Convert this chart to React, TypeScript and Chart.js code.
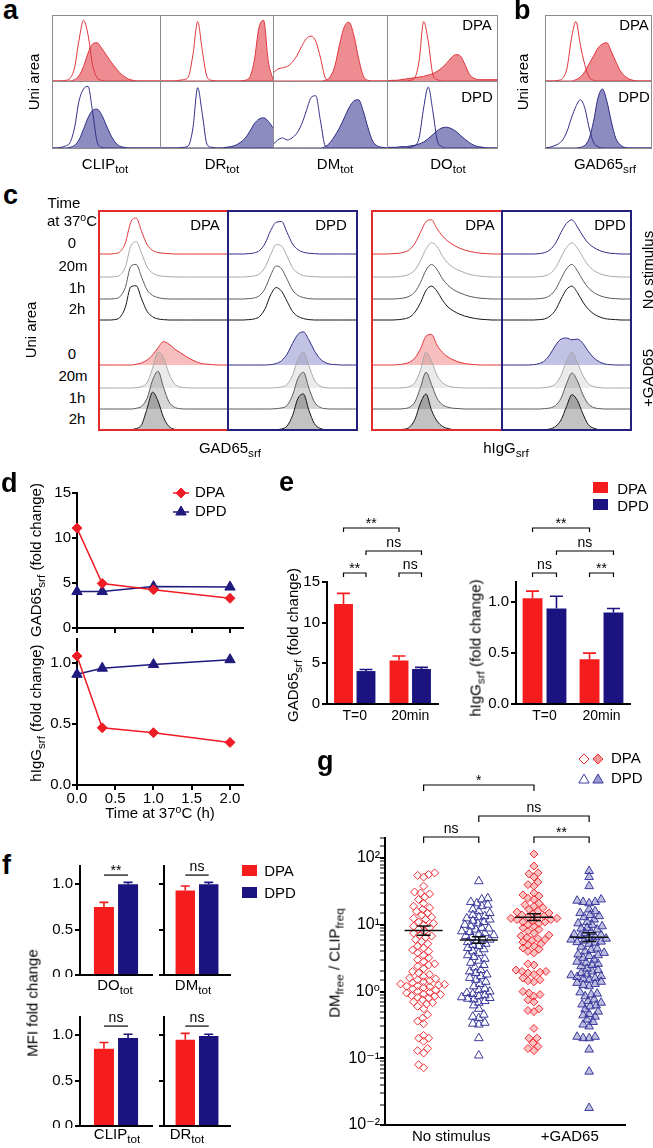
import React, { useEffect, useRef } from 'react';
import { Chart, registerables } from 'chart.js';

Chart.register(...registerables);

const FONT = "'Liberation Sans', Arial, 'DejaVu Sans', sans-serif";
Chart.defaults.font.family = FONT;
Chart.defaults.font.size = 14;
Chart.defaults.color = '#000';

/* ======================= DATA ======================= */

// a: total-staining histograms, 25 bins along the log fluorescence axis (% of plot height)
const aMarkers = ['CLIP', 'DR', 'DM', 'DO'];
const aDpaCtrl = [
  [0, 0, 0, 1, 4, 20, 62, 92, 70, 25, 5, 1, 0, 0, 0, 0, 0, 0, 0, 0, 0, 0, 0, 0, 0],
  [0, 0, 0, 0, 1, 2, 6, 40, 90, 45, 6, 1, 0, 0, 0, 0, 0, 0, 0, 0, 0, 0, 0, 0, 0],
  [12, 18, 20, 22, 28, 38, 52, 64, 68, 60, 35, 5, 0, 0, 0, 0, 0, 0, 0, 0, 0, 0, 0, 0, 0],
  [0, 0, 0, 0, 0, 1, 4, 30, 90, 60, 10, 2, 0, 0, 0, 0, 0, 0, 0, 0, 0, 0, 0, 0, 0],
];
const aDpaStain = [
  [0, 0, 0, 0, 0, 2, 8, 22, 42, 56, 58, 50, 40, 30, 21, 13, 7, 3, 1, 0, 0, 0, 0, 0, 0],
  [0, 0, 0, 0, 0, 0, 0, 0, 0, 0, 0, 0, 0, 0, 0, 0, 0, 0, 1, 5, 30, 80, 92, 30, 2],
  [0, 0, 0, 0, 0, 0, 0, 0, 0, 0, 0, 1, 6, 22, 55, 82, 89, 70, 35, 8, 1, 0, 0, 0, 0],
  [0, 1, 1, 2, 3, 4, 5, 6, 7, 9, 11, 15, 20, 27, 35, 40, 38, 25, 10, 4, 2, 2, 2, 2, 2],
];
const aDpdCtrl = [
  [0, 0, 1, 3, 8, 30, 70, 88, 92, 55, 10, 1, 0, 0, 0, 0, 0, 0, 0, 0, 0, 0, 0, 0, 0],
  [0, 0, 0, 0, 0, 1, 3, 30, 90, 50, 5, 1, 0, 0, 0, 0, 0, 0, 0, 0, 0, 0, 0, 0, 0],
  [5, 12, 15, 12, 15, 22, 35, 55, 75, 78, 40, 3, 0, 0, 0, 0, 0, 0, 0, 0, 0, 0, 0, 0, 0],
  [0, 0, 0, 0, 0, 1, 3, 15, 60, 91, 55, 10, 2, 0, 0, 0, 0, 0, 0, 0, 0, 0, 0, 0, 0],
];
const aDpdStain = [
  [0, 0, 0, 0, 1, 4, 12, 28, 45, 56, 58, 50, 35, 20, 9, 3, 1, 0, 0, 0, 0, 0, 0, 0, 0],
  [0, 0, 0, 0, 0, 0, 0, 0, 0, 0, 0, 0, 0, 0, 1, 2, 4, 8, 14, 24, 36, 43, 45, 40, 30],
  [0, 0, 0, 0, 0, 0, 0, 0, 0, 0, 0, 2, 8, 18, 30, 45, 60, 70, 72, 55, 30, 10, 3, 1, 0],
  [1, 1, 1, 2, 2, 3, 4, 6, 9, 14, 20, 26, 30, 31, 29, 25, 19, 13, 8, 4, 2, 1, 0, 0, 0],
];

// b: GAD65 surface histograms
const bDpaCtrl = [0, 0, 0, 1, 4, 20, 65, 90, 55, 25, 6, 1, 0, 0, 0, 0, 0, 0, 0, 0, 0, 0, 0, 0, 0];
const bDpaStain = [0, 0, 0, 0, 0, 0, 0, 2, 6, 14, 26, 38, 50, 56, 58, 45, 30, 16, 8, 3, 1, 0, 0, 0, 0];
const bDpdCtrl = [0, 1, 3, 6, 12, 25, 45, 62, 72, 60, 30, 8, 2, 0, 0, 0, 0, 0, 0, 0, 0, 0, 0, 0, 0];
const bDpdStain = [0, 0, 0, 0, 0, 0, 0, 0, 1, 4, 14, 40, 75, 88, 70, 40, 15, 5, 1, 0, 0, 0, 0, 0, 0];

// c: staggered histograms per time point (0, 20m, 1h, 2h)
const cTimes = ['0', '20m', '1h', '2h'];
const cGadDpaNoStim = [
  [0, 0, 0, 1, 6, 30, 88, 100, 62, 26, 10, 4, 2, 1, 0, 0, 0, 0, 0, 0, 0, 0, 0, 0, 0],
  [0, 0, 0, 1, 5, 28, 85, 98, 65, 28, 11, 4, 2, 1, 0, 0, 0, 0, 0, 0, 0, 0, 0, 0, 0],
  [0, 0, 0, 1, 6, 32, 90, 96, 60, 25, 10, 4, 1, 0, 0, 0, 0, 0, 0, 0, 0, 0, 0, 0, 0],
  [0, 0, 0, 1, 7, 35, 92, 95, 58, 24, 9, 3, 1, 0, 0, 0, 0, 0, 0, 0, 0, 0, 0, 0, 0],
];
const cGadDpaGad = [
  [0, 0, 0, 0, 0, 0, 0, 2, 6, 14, 28, 48, 65, 58, 45, 35, 25, 16, 9, 4, 2, 1, 0, 0, 0],
  [0, 0, 0, 0, 0, 0, 0, 1, 4, 15, 55, 100, 85, 40, 12, 3, 1, 0, 0, 0, 0, 0, 0, 0, 0],
  [0, 0, 0, 0, 0, 0, 0, 2, 8, 30, 80, 105, 60, 20, 5, 1, 0, 0, 0, 0, 0, 0, 0, 0, 0],
  [0, 0, 0, 0, 0, 0, 1, 4, 15, 60, 105, 80, 35, 10, 2, 0, 0, 0, 0, 0, 0, 0, 0, 0, 0],
];
const cGadDpdNoStim = [
  [0, 0, 0, 0, 1, 3, 10, 30, 65, 88, 90, 60, 28, 12, 5, 2, 1, 0, 0, 0, 0, 0, 0, 0, 0],
  [0, 0, 0, 0, 1, 3, 9, 28, 62, 90, 86, 58, 26, 11, 4, 2, 1, 0, 0, 0, 0, 0, 0, 0, 0],
  [0, 0, 0, 0, 1, 3, 10, 30, 66, 92, 84, 55, 25, 10, 4, 1, 0, 0, 0, 0, 0, 0, 0, 0, 0],
  [0, 0, 0, 0, 1, 3, 10, 32, 70, 90, 80, 52, 24, 10, 4, 1, 0, 0, 0, 0, 0, 0, 0, 0, 0],
];
const cGadDpdGad = [
  [0, 0, 0, 0, 0, 0, 0, 0, 1, 4, 12, 30, 60, 85, 92, 70, 40, 18, 7, 2, 1, 0, 0, 0, 0],
  [0, 0, 0, 0, 0, 0, 0, 0, 0, 1, 3, 10, 35, 80, 100, 62, 22, 6, 1, 0, 0, 0, 0, 0, 0],
  [0, 0, 0, 0, 0, 0, 0, 0, 0, 1, 3, 10, 38, 85, 102, 58, 20, 5, 1, 0, 0, 0, 0, 0, 0],
  [0, 0, 0, 0, 0, 0, 0, 0, 0, 1, 3, 11, 40, 88, 100, 55, 18, 5, 1, 0, 0, 0, 0, 0, 0],
];
const cIgDpaNoStim = [
  [0, 0, 0, 0, 1, 2, 5, 12, 30, 60, 90, 95, 70, 50, 35, 25, 17, 11, 7, 4, 2, 1, 0, 0, 0],
  [0, 0, 0, 0, 0, 1, 3, 8, 20, 45, 78, 95, 85, 58, 38, 26, 18, 12, 7, 4, 2, 1, 0, 0, 0],
  [0, 0, 0, 0, 0, 1, 3, 8, 20, 46, 80, 96, 82, 56, 38, 26, 18, 12, 7, 4, 2, 1, 0, 0, 0],
  [0, 0, 0, 0, 0, 1, 3, 8, 22, 48, 82, 94, 80, 55, 36, 25, 17, 11, 7, 4, 2, 1, 0, 0, 0],
];
const cIgDpaGad = [
  [0, 0, 0, 0, 0, 1, 3, 8, 20, 45, 80, 85, 55, 35, 22, 14, 8, 4, 2, 1, 0, 0, 0, 0, 0],
  [0, 0, 0, 0, 0, 0, 1, 4, 15, 50, 100, 75, 35, 15, 6, 2, 1, 0, 0, 0, 0, 0, 0, 0, 0],
  [0, 0, 0, 0, 0, 0, 1, 5, 20, 60, 102, 68, 30, 12, 5, 2, 1, 0, 0, 0, 0, 0, 0, 0, 0],
  [0, 0, 0, 0, 0, 1, 2, 8, 30, 75, 100, 55, 25, 10, 4, 1, 0, 0, 0, 0, 0, 0, 0, 0, 0],
];
const cIgDpdNoStim = [
  [0, 0, 0, 0, 0, 0, 0, 1, 4, 12, 30, 60, 85, 95, 75, 50, 30, 18, 10, 5, 2, 1, 0, 0, 0],
  [0, 0, 0, 0, 0, 0, 0, 1, 3, 10, 26, 55, 82, 95, 80, 55, 32, 18, 10, 5, 2, 1, 0, 0, 0],
  [0, 0, 0, 0, 0, 0, 0, 1, 3, 10, 27, 56, 84, 96, 78, 52, 31, 18, 10, 5, 2, 1, 0, 0, 0],
  [0, 0, 0, 0, 0, 0, 0, 1, 3, 11, 28, 58, 85, 94, 76, 50, 30, 17, 9, 4, 2, 1, 0, 0, 0],
];
const cIgDpdGad = [
  [0, 0, 0, 0, 0, 0, 1, 4, 12, 30, 55, 72, 75, 70, 72, 60, 38, 20, 9, 3, 1, 0, 0, 0, 0],
  [0, 0, 0, 0, 0, 0, 0, 0, 1, 4, 12, 35, 75, 100, 70, 35, 12, 4, 1, 0, 0, 0, 0, 0, 0],
  [0, 0, 0, 0, 0, 0, 0, 0, 1, 3, 10, 30, 70, 100, 78, 40, 14, 4, 1, 0, 0, 0, 0, 0, 0],
  [0, 0, 0, 0, 0, 0, 0, 0, 1, 3, 10, 28, 65, 98, 82, 45, 15, 5, 1, 0, 0, 0, 0, 0, 0],
];

// d: time course (hours) of surface GAD65 and hIgG fold change
const dTimeH = [0, 0.33, 1, 2];
const dGadDpa = [11.1, 4.95, 4.25, 3.3];
const dGadDpd = [4.05, 4.05, 4.6, 4.55];
const dIgDpa = [1.06, 0.47, 0.43, 0.35];
const dIgDpd = [0.91, 0.96, 0.99, 1.03];
const dXTicks = [0, 0.5, 1, 1.5, 2];

// e: bar charts (mean and upper SEM)
const eGroups = ['T=0', '20min'];
const eGadDpa = [12.3, 5.35];
const eGadDpaErr = [13.6, 5.9];
const eGadDpd = [4.05, 4.3];
const eGadDpdErr = [4.25, 4.5];
const eIgDpa = [1.04, 0.44];
const eIgDpaErr = [1.11, 0.5];
const eIgDpd = [0.94, 0.9];
const eIgDpdErr = [1.06, 0.94];

// f: MFI fold change (order: DO, DM, CLIP, DR)
const fMarkers = ['DO', 'DM', 'CLIP', 'DR'];
const fDpa = [0.75, 0.93, 0.85, 0.95];
const fDpaErr = [0.8, 0.98, 0.92, 1.02];
const fDpd = [1.0, 1.0, 0.97, 0.99];
const fDpdErr = [1.02, 1.02, 1.01, 1.01];
const fSig = ['**', 'ns', 'ns', 'ns'];

// g: DMfree / CLIPfreq per cell
const gCategories = ['No stimulus', '+GAD65'];
const gDpaNoStim = [60, 57, 55, 52, 38, 31, 30, 29, 26, 24, 21, 19, 18, 17, 16, 15, 14, 13, 12.5, 12, 11, 10.5, 10, 9.5, 9, 8.5, 8, 7.5, 7, 6.8, 6.5, 6, 5.6, 5.2, 4.8, 4.5, 4.2, 4, 3.8, 3.5, 3.2, 3, 2.8, 2.6, 2.5, 2.4, 2.2, 2, 1.9, 1.8, 1.7, 1.6, 1.55, 1.5, 1.45, 1.4, 1.35, 1.3, 1.28, 1.25, 1.22, 1.2, 1.18, 1.15, 1.1, 1.05, 1.0, 0.97, 0.95, 0.92, 0.9, 0.87, 0.85, 0.82, 0.8, 0.75, 0.7, 0.68, 0.65, 0.6, 0.55, 0.45, 0.4, 0.36, 0.33, 0.22, 0.2, 0.2, 0.18, 0.14, 0.13, 0.12, 0.08, 0.072];
const gDpdNoStim = [45, 25, 24, 22, 21, 20, 19, 17, 16, 15, 14, 13.5, 13, 12.5, 12, 11.5, 11, 10.5, 10, 9.5, 9, 8.8, 8.5, 8, 7.8, 7.5, 7.2, 7, 6.8, 6.5, 6.2, 6, 5.8, 5.5, 5.2, 5, 4.8, 4.5, 4.3, 4, 3.8, 3.5, 3.3, 3.1, 2.9, 2.7, 2.5, 2.3, 2.1, 2, 1.9, 1.8, 1.7, 1.6, 1.5, 1.4, 1.3, 1.2, 1.1, 1.05, 1, 0.95, 0.92, 0.88, 0.85, 0.82, 0.8, 0.78, 0.76, 0.72, 0.68, 0.62, 0.55, 0.45, 0.42, 0.4, 0.34, 0.33, 0.32, 0.2, 0.11];
const gDpaGad = [115, 76, 60, 58, 52, 44, 40, 38, 30, 28, 27, 25, 24, 21, 20, 19, 18, 17, 16, 15.5, 15, 14.5, 14, 13.5, 13, 13, 12.5, 12.5, 12, 12, 11.5, 11, 11, 10.5, 10, 9.5, 9, 8.5, 8, 7.5, 7, 6.8, 6.5, 6.2, 6, 5.8, 5.5, 5.2, 5, 4.8, 4.5, 4.3, 4, 3.8, 2.6, 2.5, 2.1, 2.0, 2.0, 1.95, 1.9, 1.8, 1.6, 1.5, 1.45, 1.4, 1.0, 0.95, 0.9, 0.85, 0.75, 0.7, 0.55, 0.52, 0.5, 0.28, 0.2, 0.2, 0.17, 0.15, 0.14, 0.13];
const gDpdGad = [64, 52, 38, 24, 23, 22, 22, 21, 17, 16, 15, 14, 13.5, 13, 12, 11, 10.5, 10, 9.5, 9, 8.8, 8.5, 7.8, 7.5, 7.2, 7, 6.8, 6.6, 6.4, 6.2, 6, 5.8, 5.6, 5.5, 5.4, 5.2, 4.7, 4.4, 4.2, 4, 3.8, 3.6, 3.5, 3.4, 3.2, 3, 2.8, 2.7, 2.6, 2.5, 2.4, 2.2, 2.1, 2, 1.9, 1.8, 1.75, 1.7, 1.65, 1.6, 1.55, 1.5, 1.4, 1.35, 1.3, 1.25, 1.2, 0.97, 0.93, 0.9, 0.85, 0.76, 0.72, 0.68, 0.64, 0.62, 0.6, 0.54, 0.5, 0.46, 0.44, 0.42, 0.38, 0.35, 0.32, 0.3, 0.21, 0.21, 0.2, 0.2, 0.135, 0.063, 0.018];
const gMean = [8.2, 5.9, 13.0, 6.5];
const gSemLo = [7.0, 5.3, 11.6, 5.6];
const gSemHi = [9.6, 6.6, 14.6, 7.6];

/* ======================= STYLE ======================= */
const RED_LINE = '#e0343c';
const RED_FILL = 'rgba(222,45,55,0.55)';
const BLUE_LINE = '#2e2c86';
const BLUE_FILL = 'rgba(45,45,140,0.55)';
const BAR_RED = '#f41c1c';
const BAR_NAVY = '#1b137f';
const PT_RED = '#ef2e36';
const PT_BLUE = '#3c3a9c';

/* ======================= HELPERS ======================= */
const fitW = (w: number) => (s: any) => {
  s.width = w; s.paddingLeft = 0; s.paddingRight = 0; s.paddingTop = 0; s.paddingBottom = 0;
};
const fitH = (h: number) => (s: any) => {
  s.height = h; s.paddingLeft = 0; s.paddingRight = 0; s.paddingTop = 0; s.paddingBottom = 0;
};

function ChartCanvas({ x, y, w, h, make }: any) {
  const ref = useRef<HTMLCanvasElement>(null);
  useEffect(() => {
    const chart = new Chart(ref.current as any, make());
    return () => chart.destroy();
  }, []);
  return (
    <div style={{ position: 'absolute', left: x, top: y, width: w, height: h }}>
      <canvas ref={ref} width={w} height={h} style={{ display: 'block', width: w, height: h }} />
    </div>
  );
}

function curve(vals: number[], base: number, k: number, line: string, fill: string | null, order: number) {
  return {
    data: vals.map((v, i) => ({ x: i, y: base + v * k })),
    borderColor: line,
    borderWidth: 1,
    backgroundColor: fill || 'rgba(0,0,0,0)',
    fill: fill ? { value: base } : false,
    pointRadius: 0,
    cubicInterpolationMode: 'monotone',
    order,
    clip: false,
  };
}

function histCfg(curves: any[], ymax: number) {
  return {
    type: 'line',
    data: { datasets: curves },
    options: {
      responsive: false, animation: false, devicePixelRatio: 1, events: [],
      layout: { padding: 0 },
      plugins: { legend: { display: false }, tooltip: { enabled: false } },
      scales: {
        x: { type: 'linear', min: 0, max: 24, display: false },
        y: { type: 'linear', min: 0, max: ymax, display: false },
      },
    },
  };
}

function drawDiamond(ctx: any, x: number, y: number, r: number, stroke: string, fill: string | null) {
  ctx.beginPath();
  ctx.moveTo(x - r, y); ctx.lineTo(x, y - r); ctx.lineTo(x + r, y); ctx.lineTo(x, y + r); ctx.closePath();
  if (fill) { ctx.fillStyle = fill; ctx.fill(); }
  ctx.strokeStyle = stroke; ctx.lineWidth = 1; ctx.stroke();
}
function drawTri(ctx: any, x: number, y: number, r: number, stroke: string, fill: string | null) {
  ctx.beginPath();
  ctx.moveTo(x, y - r); ctx.lineTo(x + 0.866 * r, y + 0.5 * r); ctx.lineTo(x - 0.866 * r, y + 0.5 * r); ctx.closePath();
  if (fill) { ctx.fillStyle = fill; ctx.fill(); }
  ctx.strokeStyle = stroke; ctx.lineWidth = 1; ctx.stroke();
}

function errPlugin(errs: number[][], cap: number) {
  return {
    id: 'errbars',
    afterDatasetsDraw(chart: any) {
      const ctx = chart.ctx;
      const ys = chart.scales.y;
      errs.forEach((arr, di) => {
        const meta = chart.getDatasetMeta(di);
        const col = chart.data.datasets[di].backgroundColor;
        meta.data.forEach((el: any, i: number) => {
          const ye = ys.getPixelForValue(arr[i]);
          ctx.save();
          ctx.strokeStyle = col; ctx.lineWidth = 1.6;
          ctx.beginPath();
          ctx.moveTo(el.x, el.y); ctx.lineTo(el.x, ye);
          ctx.moveTo(el.x - cap, ye); ctx.lineTo(el.x + cap, ye);
          ctx.stroke();
          ctx.restore();
        });
      });
    },
  };
}

function bracketPlugin(list: any[]) {
  return {
    id: 'brackets',
    afterDraw(chart: any) {
      const ctx = chart.ctx;
      const px = (p: any) => (Array.isArray(p) ? chart.getDatasetMeta(p[1]).data[p[0]].x : chart.scales.x.getPixelForValue(p));
      ctx.save();
      ctx.strokeStyle = '#000'; ctx.fillStyle = '#000'; ctx.lineWidth = 1.2;
      ctx.font = `14px ${FONT}`; ctx.textAlign = 'center'; ctx.textBaseline = 'alphabetic';
      list.forEach((b) => {
        const xa = px(b.a);
        const xb = px(b.b);
        const y = b.mode === 'top' ? chart.chartArea.top + b.y : chart.scales.y.getPixelForValue(b.y);
        ctx.beginPath();
        ctx.moveTo(xa, y + b.drop); ctx.lineTo(xa, y); ctx.lineTo(xb, y); ctx.lineTo(xb, y + b.drop);
        ctx.stroke();
        const star = b.text.indexOf('*') >= 0;
        ctx.fillText(b.text, (xa + xb) / 2, y - (star ? 0 : 4));
      });
      ctx.restore();
    },
  };
}

function barCfg(o: any) {
  return {
    type: 'bar',
    data: {
      labels: o.labels,
      datasets: [
        { label: 'DPA', data: o.dpa, backgroundColor: BAR_RED, borderWidth: 0, categoryPercentage: o.cat, barPercentage: o.bar },
        { label: 'DPD', data: o.dpd, backgroundColor: BAR_NAVY, borderWidth: 0, categoryPercentage: o.cat, barPercentage: o.bar },
      ],
    },
    options: {
      responsive: false, animation: false, devicePixelRatio: 1, events: [],
      layout: { padding: o.pad },
      plugins: { legend: { display: false }, tooltip: { enabled: false } },
      scales: {
        x: {
          grid: { display: false, drawTicks: false },
          border: { display: true, color: '#000', width: 2 },
          ticks: { display: o.xLabels, padding: 4, font: { size: 14 }, maxRotation: 0 },
          afterFit: fitH(o.xH),
        },
        y: {
          min: 0, max: o.max,
          grid: { display: true, drawOnChartArea: false, drawTicks: true, tickLength: 5, color: '#000', lineWidth: 2 },
          border: { display: true, color: '#000', width: 2 },
          ticks: { display: o.yLabels, stepSize: o.step, includeBounds: false, padding: 2, font: { size: 15 }, callback: (v: number) => Number(v).toFixed(o.dec) },
          afterFit: fitW(o.yW),
        },
      },
    },
    plugins: [errPlugin([o.dpaErr, o.dpdErr], o.cap), bracketPlugin(o.brackets)],
  };
}

function dCfg(o: any) {
  const legend = {
    id: 'dlegend',
    afterDraw(chart: any) {
      if (!o.legend) return;
      const ctx = chart.ctx;
      ctx.save();
      ctx.font = `15px ${FONT}`; ctx.textBaseline = 'middle'; ctx.fillStyle = '#000';
      ctx.strokeStyle = '#ee1c25'; ctx.lineWidth = 1.5;
      ctx.beginPath(); ctx.moveTo(143, 8); ctx.lineTo(159, 8); ctx.stroke();
      drawDiamond(ctx, 151, 8, 5, '#ee1c25', '#ee1c25');
      ctx.fillStyle = '#000'; ctx.fillText('DPA', 165, 8);
      ctx.strokeStyle = '#1f1a7e'; ctx.lineWidth = 1.5;
      ctx.beginPath(); ctx.moveTo(143, 27); ctx.lineTo(159, 27); ctx.stroke();
      drawTri(ctx, 151, 27, 6, '#1f1a7e', '#1f1a7e');
      ctx.fillStyle = '#000'; ctx.fillText('DPD', 165, 27);
      ctx.restore();
    },
  };
  return {
    type: 'line',
    data: {
      datasets: [
        {
          label: 'DPA', data: dTimeH.map((t, i) => ({ x: t, y: o.dpa[i] })),
          borderColor: '#ee1c25', backgroundColor: '#ee1c25', borderWidth: 1.5,
          pointStyle: 'rectRot', pointRadius: 5, pointBorderWidth: 1, clip: false, tension: 0,
        },
        {
          label: 'DPD', data: dTimeH.map((t, i) => ({ x: t, y: o.dpd[i] })),
          borderColor: '#1f1a7e', backgroundColor: '#1f1a7e', borderWidth: 1.5,
          pointStyle: 'triangle', pointRadius: 6, pointBorderWidth: 1, clip: false, tension: 0,
        },
      ],
    },
    options: {
      responsive: false, animation: false, devicePixelRatio: 1, events: [],
      layout: { padding: o.pad },
      plugins: { legend: { display: false }, tooltip: { enabled: false } },
      scales: {
        x: {
          type: 'linear', min: 0, max: 2.17,
          grid: { display: true, drawOnChartArea: false, drawTicks: true, tickLength: 5, color: '#000', lineWidth: 2 },
          border: { display: true, color: '#000', width: 2 },
          afterBuildTicks: (s: any) => { s.ticks = dXTicks.map((v) => ({ value: v })); },
          ticks: { display: o.xLabels, padding: 0, font: { size: 15 }, callback: (v: number) => Number(v).toFixed(1) },
          afterFit: fitH(o.xH),
        },
        y: {
          min: 0, max: o.max,
          grid: { display: true, drawOnChartArea: false, drawTicks: true, tickLength: 5, color: '#000', lineWidth: 2 },
          border: { display: true, color: '#000', width: 2 },
          ticks: { stepSize: o.step, includeBounds: false, padding: 1, font: { size: 15 }, callback: (v: number) => Number(v).toFixed(o.dec) },
          afterFit: fitW(47),
        },
      },
    },
    plugins: [legend],
  };
}

// beeswarm layout (pixel offsets) for the scatter columns of panel g
function swarm(vals: number[], pxPerDec: number, D: number): number[] {
  const idx = vals.map((_, i) => i).sort((a, b) => vals[a] - vals[b]);
  const placed: { x: number; y: number }[] = [];
  const out: number[] = new Array(vals.length).fill(0);
  for (const i of idx) {
    const y = Math.log10(vals[i]) * pxPerDec;
    let best = 0;
    for (let k = 0; k < 120; k++) {
      const cand = (k % 2 === 0 ? 1 : -1) * Math.ceil(k / 2);
      let ok = true;
      for (const p of placed) {
        if ((p.x - cand) * (p.x - cand) + (p.y - y) * (p.y - y) < D * D) { ok = false; break; }
      }
      if (ok) { best = cand; break; }
    }
    placed.push({ x: best, y });
    out[i] = best;
  }
  return out;
}

const SUP: Record<string, string> = { '-': '\u207B', '0': '\u2070', '1': '\u00B9', '2': '\u00B2', '3': '\u00B3' };

function gCfg() {
  const XMIN = -0.7, XMAX = 3.65;
  const pxPerUnit = 240 / (XMAX - XMIN);
  const pxPerDec = 287 / Math.log10(200 / 0.01);
  const groups = [gDpaNoStim, gDpdNoStim, gDpaGad, gDpdGad];
  const styles = [
    { ps: 'rectRot', r: 4, bc: PT_RED, bg: 'rgba(0,0,0,0)' },
    { ps: 'triangle', r: 5, bc: PT_BLUE, bg: 'rgba(0,0,0,0)' },
    { ps: 'rectRot', r: 4, bc: PT_RED, bg: 'rgba(240,80,80,0.35)' },
    { ps: 'triangle', r: 5, bc: PT_BLUE, bg: 'rgba(70,70,170,0.35)' },
  ];
  const datasets = groups.map((vals, gi) => {
    const off = swarm(vals, pxPerDec, 5.6);
    const st = styles[gi];
    return {
      data: vals.map((v, i) => ({ x: gi + off[i] / pxPerUnit, y: v })),
      pointStyle: st.ps, pointRadius: st.r, pointBorderWidth: 1,
      borderColor: st.bc, backgroundColor: st.bg, pointBorderColor: st.bc, pointBackgroundColor: st.bg,
    };
  });
  const stats = {
    id: 'gstats',
    afterDatasetsDraw(chart: any) {
      const { ctx } = chart; const x = chart.scales.x; const y = chart.scales.y;
      gMean.forEach((m, i) => {
        const cx = x.getPixelForValue(i);
        const ym = y.getPixelForValue(m);
        const yl = y.getPixelForValue(gSemLo[i]);
        const yh = y.getPixelForValue(gSemHi[i]);
        ctx.save(); ctx.strokeStyle = '#111'; ctx.lineWidth = 1.5;
        ctx.beginPath();
        ctx.moveTo(cx - 19, ym); ctx.lineTo(cx + 19, ym);
        ctx.moveTo(cx, yl); ctx.lineTo(cx, yh);
        ctx.moveTo(cx - 7, yl); ctx.lineTo(cx + 7, yl);
        ctx.moveTo(cx - 7, yh); ctx.lineTo(cx + 7, yh);
        ctx.stroke(); ctx.restore();
      });
    },
  };
  const legend = {
    id: 'glegend',
    afterDraw(chart: any) {
      const ctx = chart.ctx;
      ctx.save();
      drawDiamond(ctx, 239, 14, 5, PT_RED, null);
      drawDiamond(ctx, 253, 14, 5, PT_RED, 'rgba(240,80,80,0.6)');
      drawTri(ctx, 239, 35, 6, PT_BLUE, null);
      drawTri(ctx, 253, 35, 6, PT_BLUE, 'rgba(70,70,170,0.55)');
      ctx.font = `15px ${FONT}`; ctx.fillStyle = '#000'; ctx.textBaseline = 'middle';
      ctx.fillText('DPA', 266, 14);
      ctx.fillText('DPD', 266, 34);
      ctx.restore();
    },
  };
  return {
    type: 'scatter',
    data: { datasets },
    options: {
      responsive: false, animation: false, devicePixelRatio: 1, events: [],
      layout: { padding: { top: 93, left: 0, right: 25, bottom: 2 } },
      plugins: { legend: { display: false }, tooltip: { enabled: false } },
      scales: {
        x: {
          type: 'linear', min: XMIN, max: XMAX,
          grid: { display: false, drawTicks: false },
          border: { display: true, color: '#000', width: 2 },
          afterBuildTicks: (s: any) => { s.ticks = [{ value: 0.5 }, { value: 2.65 }]; },
          ticks: { padding: 3, autoSkip: false, maxRotation: 0, font: { size: 15 }, callback: (v: number) => (v < 1.5 ? gCategories[0] : gCategories[1]) },
          afterFit: fitH(18),
        },
        y: {
          type: 'logarithmic', min: 0.01, max: 200,
          grid: {
            display: true, drawOnChartArea: false, drawTicks: true, tickLength: 5, color: '#000', lineWidth: 2,
            tickWidth: (c: any) => {
              const l = Math.log10(c.tick ? c.tick.value : 1);
              return Math.abs(l - Math.round(l)) < 1e-6 ? 2 : 1;
            },
          },
          border: { display: true, color: '#000', width: 2 },
          ticks: {
            autoSkip: false, padding: 0, font: { size: 16 },
            callback: (v: number) => {
              const l = Math.log10(v);
              if (Math.abs(l - Math.round(l)) > 1e-6) return '';
              return '10' + String(Math.round(l)).split('').map((ch) => SUP[ch]).join('');
            },
          },
          afterFit: fitW(40),
        },
      },
    },
    plugins: [stats, legend, bracketPlugin([
      { a: 0, b: 2, y: -53, drop: 6, text: '*', mode: 'top' },
      { a: 1, b: 3, y: -22, drop: 6, text: 'ns', mode: 'top' },
      { a: 0, b: 1, y: -1, drop: 6, text: 'ns', mode: 'top' },
      { a: 2, b: 3, y: -1, drop: 6, text: '**', mode: 'top' },
    ])],
  };
}

/* ======================= TEXT ======================= */
const Sub = ({ children }: any) => <span style={{ fontSize: '0.78em', position: 'relative', top: '0.35em' }}>{children}</span>;
const Sup = ({ children }: any) => <span style={{ fontSize: '0.7em', position: 'relative', top: '-0.5em' }}>{children}</span>;
const Txt = ({ x, y, children, size = 14, rot = false }: any) => (
  <div style={{
    position: 'absolute', left: x, top: y, fontSize: size, lineHeight: 1, whiteSpace: 'nowrap',
    transform: `translate(-50%,-50%)${rot ? ' rotate(-90deg)' : ''}`, fontFamily: FONT,
  }}>{children}</div>
);
const Letter = ({ x, base, children }: any) => (
  <div style={{ position: 'absolute', left: x, top: base - 0.8465 * 27, fontSize: 27, lineHeight: '27px', fontWeight: 'bold', fontFamily: FONT }}>{children}</div>
);
const Sq = ({ x, y, c }: any) => <div style={{ position: 'absolute', left: x, top: y, width: 15, height: 11, background: c }} />;
const Frame = ({ x, y, w, h, c, bw }: any) => (
  <div style={{ position: 'absolute', left: x, top: y, width: w, height: h, border: `${bw}px solid ${c}`, boxSizing: 'border-box', pointerEvents: 'none' }} />
);

/* ======================= APP ======================= */
const A_COLS = [52, 160, 273, 387, 497];
const C_UP_BASE = [176, 153, 131, 110];
const C_LO_BASE = [65, 42, 21, 0];
const C_K = 0.36;
const GRAY_LINE = ['', '#a8a8a8', '#5a5a5a', '#151515'];
const GRAY_FILL = ['', 'rgba(0,0,0,0.08)', 'rgba(0,0,0,0.16)', 'rgba(0,0,0,0.24)'];

function cCurves(noStim: number[][], gad: number[][], line: string, fill0: string) {
  const ds: any[] = [];
  noStim.forEach((v, t) => ds.push(curve(v, C_UP_BASE[t], C_K, t === 0 ? line : GRAY_LINE[t], null, 20 - t)));
  gad.forEach((v, t) => ds.push(curve(v, C_LO_BASE[t], C_K, t === 0 ? line : GRAY_LINE[t], t === 0 ? fill0 : GRAY_FILL[t], 10 - t)));
  return ds;
}

const C_BOXES = [
  { x: 98, w: 131, no: cGadDpaNoStim, gad: cGadDpaGad, line: RED_LINE, fill: 'rgba(235,70,70,0.35)', frame: '#e32b2b', label: 'DPA', lx: 205 },
  { x: 227, w: 131, no: cGadDpdNoStim, gad: cGadDpdGad, line: BLUE_LINE, fill: 'rgba(80,80,180,0.35)', frame: '#23207e', label: 'DPD', lx: 331 },
  { x: 371, w: 132, no: cIgDpaNoStim, gad: cIgDpaGad, line: RED_LINE, fill: 'rgba(235,70,70,0.35)', frame: '#e32b2b', label: 'DPA', lx: 480 },
  { x: 501, w: 131, no: cIgDpdNoStim, gad: cIgDpdGad, line: BLUE_LINE, fill: 'rgba(80,80,180,0.35)', frame: '#23207e', label: 'DPD', lx: 610 },
];
const C_ROW_Y = [242, 265, 287, 308, 353, 375, 397, 418];
const C_ROW_X = [72, 73, 77, 77];

const eLeftBrackets = [
  { a: [0, 0], b: [1, 0], y: -54, drop: 4, text: '**', mode: 'top' },
  { a: [0, 1], b: [1, 1], y: -31, drop: 4, text: 'ns', mode: 'top' },
  { a: [0, 0], b: [0, 1], y: -9, drop: 4, text: '**', mode: 'top' },
  { a: [1, 0], b: [1, 1], y: -9, drop: 4, text: 'ns', mode: 'top' },
];
const eRightBrackets = [
  { a: [0, 0], b: [1, 0], y: -54, drop: 4, text: '**', mode: 'top' },
  { a: [0, 1], b: [1, 1], y: -31, drop: 4, text: 'ns', mode: 'top' },
  { a: [0, 0], b: [0, 1], y: -9, drop: 4, text: 'ns', mode: 'top' },
  { a: [1, 0], b: [1, 1], y: -9, drop: 4, text: '**', mode: 'top' },
];

const F_CELLS = [
  { x: 40, y: 855, w: 116, yW: 40, labels: true, cat: 0.67, lbl: 'DO', lx: 115, ly: 984 },
  { x: 158, y: 855, w: 76, yW: 6, labels: false, cat: 0.71, lbl: 'DM', lx: 193, ly: 984 },
  { x: 40, y: 1006, w: 116, yW: 40, labels: true, cat: 0.67, lbl: 'CLIP', lx: 117, ly: 1133 },
  { x: 158, y: 1006, w: 76, yW: 6, labels: false, cat: 0.71, lbl: 'DR', lx: 187, ly: 1133 },
];

export default function App() {
  return (
    <div style={{ position: 'absolute', left: 0, top: 0, width: 653, height: 1148, background: '#fff', overflow: 'hidden', fontFamily: FONT, color: '#000' }}>
      {/* ---------- a ---------- */}
      <Letter x={3} base={20}>a</Letter>
      {aMarkers.map((m, i) => {
        const x = A_COLS[i]; const w = A_COLS[i + 1] - A_COLS[i];
        return (
          <React.Fragment key={'a' + m}>
            <ChartCanvas x={x} y={15} w={w} h={66} make={() => histCfg([curve(aDpaCtrl[i], 0, 1, RED_LINE, null, 0), curve(aDpaStain[i], 0, 1, RED_LINE, RED_FILL, 1)], 100)} />
            <ChartCanvas x={x} y={81} w={w} h={67} make={() => histCfg([curve(aDpdCtrl[i], 0, 1, BLUE_LINE, null, 0), curve(aDpdStain[i], 0, 1, BLUE_LINE, BLUE_FILL, 1)], 100)} />
            <Frame x={x} y={15} w={w + 1} h={67} c="#8c8c8c" bw={1} />
            <Frame x={x} y={81} w={w + 1} h={68} c="#8c8c8c" bw={1} />
          </React.Fragment>
        );
      })}
      <Txt x={33} y={82} size={15} rot>Uni area</Txt>
      <Txt x={105} y={163} size={15}>CLIP<Sub>tot</Sub></Txt>
      <Txt x={222} y={163} size={15}>DR<Sub>tot</Sub></Txt>
      <Txt x={335} y={163} size={15}>DM<Sub>tot</Sub></Txt>
      <Txt x={448} y={163} size={15}>DO<Sub>tot</Sub></Txt>
      <Txt x={477} y={24} size={15}>DPA</Txt>
      <Txt x={477} y={96} size={15}>DPD</Txt>

      {/* ---------- b ---------- */}
      <Letter x={514} base={20}>b</Letter>
      <ChartCanvas x={545} y={15} w={106} h={66} make={() => histCfg([curve(bDpaCtrl, 0, 1, RED_LINE, null, 0), curve(bDpaStain, 0, 1, RED_LINE, RED_FILL, 1)], 100)} />
      <ChartCanvas x={545} y={81} w={106} h={67} make={() => histCfg([curve(bDpdCtrl, 0, 1, BLUE_LINE, null, 0), curve(bDpdStain, 0, 1, BLUE_LINE, BLUE_FILL, 1)], 100)} />
      <Frame x={545} y={15} w={107} h={67} c="#8c8c8c" bw={1} />
      <Frame x={545} y={81} w={107} h={68} c="#8c8c8c" bw={1} />
      <Txt x={522} y={82} size={15} rot>Uni area</Txt>
      <Txt x={605} y={163} size={15}>GAD65<Sub>srf</Sub></Txt>
      <Txt x={634} y={24} size={15}>DPA</Txt>
      <Txt x={634} y={96} size={15}>DPD</Txt>

      {/* ---------- c ---------- */}
      <Letter x={3} base={205}>c</Letter>
      <Txt x={64} y={202} size={15}>Time</Txt>
      <Txt x={72} y={220} size={15}>at 37<Sup>o</Sup>C</Txt>
      {C_ROW_Y.map((yy, i) => <Txt key={'cr' + i} x={C_ROW_X[i % 4]} y={yy} size={15}>{cTimes[i % 4]}</Txt>)}
      <Txt x={30} y={330} size={15} rot>Uni area</Txt>
      {C_BOXES.map((b, i) => (
        <React.Fragment key={'cb' + i}>
          <ChartCanvas x={b.x} y={210} w={b.w} h={220} make={() => histCfg(cCurves(b.no, b.gad, b.line, b.fill), 220)} />
          <Frame x={b.x} y={210} w={b.w} h={221} c={b.frame} bw={2} />
          <Txt x={b.lx} y={224} size={15}>{b.label}</Txt>
        </React.Fragment>
      ))}
      <Txt x={647} y={270} size={15} rot>No stimulus</Txt>
      <Txt x={647} y={378} size={15} rot>+GAD65</Txt>
      <Txt x={230} y={447} size={15}>GAD65<Sub>srf</Sub></Txt>
      <Txt x={506} y={447} size={15}>hIgG<Sub>srf</Sub></Txt>

      {/* ---------- d ---------- */}
      <Letter x={1} base={493}>d</Letter>
      <ChartCanvas x={30} y={485} w={225} h={150} make={() => dCfg({ dpa: dGadDpa, dpd: dGadDpd, max: 15, step: 5, dec: 0, xLabels: false, xH: 6, pad: { top: 8, right: 12, bottom: 0, left: 0 }, legend: true })} />
      <ChartCanvas x={30} y={631} w={225} h={178} make={() => dCfg({ dpa: dIgDpa, dpd: dIgDpd, max: 1.2, step: 0.5, dec: 1, xLabels: true, xH: 22, pad: { top: 8, right: 12, bottom: 2, left: 0 }, legend: false })} />
      <Txt x={35} y={560} size={15} rot>GAD65<Sub>srf</Sub> (fold change)</Txt>
      <Txt x={35} y={713} size={15} rot>hIgG<Sub>srf</Sub> (fold change)</Txt>
      <Txt x={160} y={812} size={15}>Time at 37<Sup>o</Sup>C (h)</Txt>

      {/* ---------- e ---------- */}
      <Letter x={279} base={492}>e</Letter>
      <ChartCanvas x={295} y={505} w={150} h={225} make={() => barCfg({
        labels: eGroups, dpa: eGadDpa, dpd: eGadDpd, dpaErr: eGadDpaErr, dpdErr: eGadDpdErr,
        max: 15, step: 5, dec: 0, yW: 32, xH: 22, pad: { top: 77, right: 7, bottom: 4, left: 0 },
        cat: 0.81, bar: 0.84, yLabels: true, xLabels: true, cap: 6.5, brackets: eLeftBrackets,
      })} />
      <ChartCanvas x={480} y={505} w={155} h={225} make={() => barCfg({
        labels: eGroups, dpa: eIgDpa, dpd: eIgDpd, dpaErr: eIgDpaErr, dpdErr: eIgDpdErr,
        max: 1.2, step: 0.5, dec: 1, yW: 36, xH: 22, pad: { top: 77, right: 5, bottom: 4, left: 0 },
        cat: 0.84, bar: 0.83, yLabels: true, xLabels: true, cap: 6.5, brackets: eRightBrackets,
      })} />
      <Txt x={292} y={645} size={15} rot>GAD65<Sub>srf</Sub> (fold change)</Txt>
      <Txt x={475} y={648} size={15} rot>hIgG<Sub>srf</Sub> (fold change)</Txt>
      <Sq x={593} y={482} c={BAR_RED} />
      <Txt x={632} y={488} size={15}>DPA</Txt>
      <Sq x={593} y={499} c={BAR_NAVY} />
      <Txt x={633} y={505} size={15}>DPD</Txt>

      {/* ---------- f ---------- */}
      <Letter x={2} base={875}>f</Letter>
      {F_CELLS.map((c, i) => (
        <React.Fragment key={'f' + i}>
          <ChartCanvas x={c.x} y={c.y} w={c.w} h={122} make={() => barCfg({
            labels: [fMarkers[i]], dpa: [fDpa[i]], dpd: [fDpd[i]], dpaErr: [fDpaErr[i]], dpdErr: [fDpdErr[i]],
            max: 1.2, step: 0.5, dec: 1, yW: c.yW, xH: 0, pad: { top: 11, right: 4, bottom: 2, left: 0 },
            cat: c.cat, bar: 0.83, yLabels: c.labels, xLabels: false, cap: 4.5,
            brackets: [{ a: [0, 0], b: [0, 1], y: 1.1, drop: 0, text: fSig[i], mode: 'val' }],
          })} />
          <Txt x={c.lx} y={c.ly} size={15}>{fMarkers[i]}<Sub>tot</Sub></Txt>
        </React.Fragment>
      ))}
      <Txt x={32} y={1003} size={15} rot>MFI fold change</Txt>
      <Sq x={242} y={865} c={BAR_RED} />
      <Txt x={279} y={870} size={15}>DPA</Txt>
      <Sq x={242} y={887} c={BAR_NAVY} />
      <Txt x={280} y={892} size={15}>DPD</Txt>

      {/* ---------- g ---------- */}
      <Letter x={317} base={771}>g</Letter>
      <ChartCanvas x={345} y={745} w={305} h={400} make={gCfg} />
      <Txt x={334} y={963} size={15} rot>DM<Sub>free</Sub> / CLIP<Sub>freq</Sub></Txt>
    </div>
  );
}
